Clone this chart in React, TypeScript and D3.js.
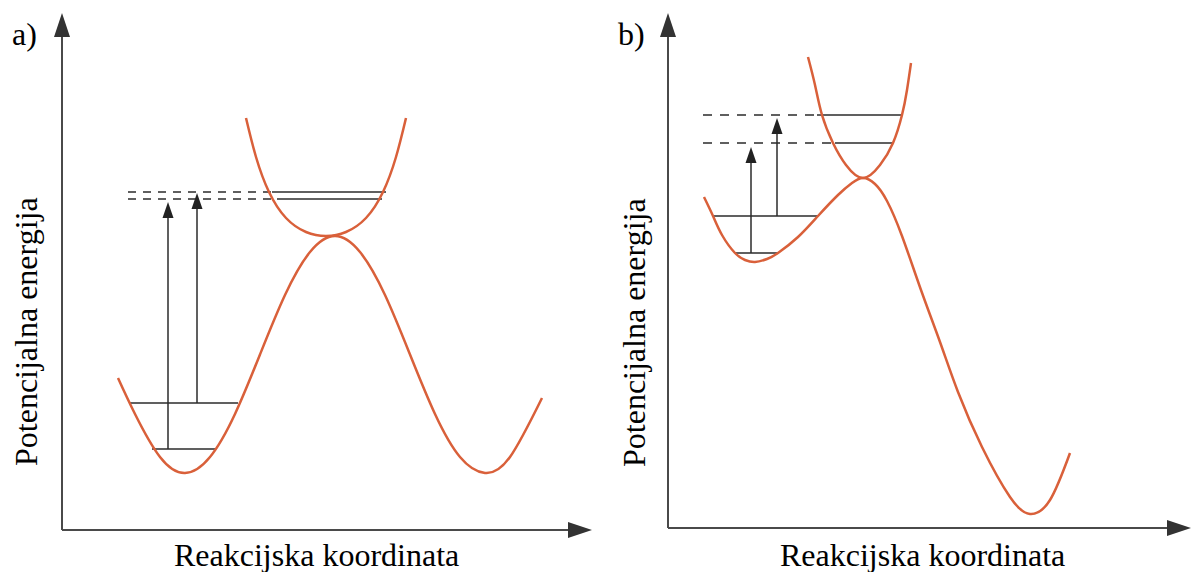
import React from "react";
import * as d3 from "d3";

type Pt = [number, number];

// reaction coordinate / energy, arbitrary units (0..100 on each panel)
const lowerCurveA: Pt[] = [
  [11.2, 30.4], [14.6, 23.2], [19.6, 14.6], [24.6, 11.4], [29.6, 14.6],
  [34.6, 23.2], [39.6, 35.1], [44.6, 47], [49.6, 55.6], [54.6, 58.8],
  [59.6, 55.6], [64.6, 47], [69.6, 35.1], [74.6, 23.2], [79.6, 14.6],
  [84.6, 11.4], [89.6, 14.6], [96, 26.4],
];
const upperCurveA: Pt[] = [
  [36.8, 82.4], [38.8, 74.6], [41.4, 67.6], [44.8, 62.4], [48.8, 59.6],
  [52.8, 58.8], [56.8, 59.6], [60.8, 62.4], [64.2, 67.6], [66.8, 74.6],
  [68.8, 82.4],
];
// [from, to, energy]
const lowerLevelsA = [[18, 30.6, 16.2], [13.4, 35.2, 25.4]];
// [dash start, solid start, solid end, energy]
const upperLevelsA = [[13.2, 43, 64, 66.2], [13.2, 42, 64.8, 67.6]];
// [x, from energy, to energy]
const transitionsA = [[21.2, 16.2, 65.6], [27, 25.4, 67.4]];

const lowerCurveB: Pt[] = [
  [7.2, 66.2], [9, 62.4], [10.8, 58.6], [13.4, 55], [15.4, 53.6],
  [17.4, 53.2], [19.8, 53.8], [22, 55], [26, 58.2], [30, 62.4],
  [34, 66.6], [36.8, 69], [39, 70], [41.4, 68.8], [43.8, 65.4],
  [46.8, 58.4], [50.6, 47.6], [54.4, 37.2], [58, 27.2], [62.8, 16.2],
  [68.4, 6.2], [72.4, 2.8], [76.4, 5.6], [80.4, 15],
];
const upperCurveB: Pt[] = [
  [28, 94.2], [29.4, 88.6], [30.8, 82.6], [33, 77], [35.6, 72.6],
  [39, 70], [42.4, 72.6], [45, 77], [46.8, 82.6], [47.8, 87.6],
  [48.6, 93],
];
const lowerLevelsB = [[13.4, 22, 55], [9, 30, 62.4]];
const upperLevelsB = [[7, 33.4, 44.8, 77], [7, 29.8, 46.8, 82.6]];
const transitionsB = [[16.6, 55, 76.2], [21.8, 62.4, 82]];

const yTitle = "Potencijalna energija";
const xTitle = "Reakcijska koordinata";

const CURVE = "#d9603a";
const INK = "#2b2b2b";
const AXIS = "#4a4a4a";

function Panel({ x0, y0, xTip, yTip, lower, upper, lowerLevels, upperLevels, transitions, dash }) {
  const x = d3.scaleLinear().domain([0, 100]).range([x0, x0 + 500]);
  const y = d3.scaleLinear().domain([0, 100]).range([y0, y0 - 500]);
  const line = d3
    .line<Pt>()
    .x((d) => x(d[0]))
    .y((d) => y(d[1]))
    .curve(d3.curveNatural);

  return (
    <g>
      <line x1={x0} y1={y0} x2={x0} y2={yTip + 20} stroke={AXIS} strokeWidth={2} />
      <line x1={x0} y1={y0} x2={xTip - 20} y2={y0} stroke={AXIS} strokeWidth={2} />
      <path d={`M${x0},${yTip}L${x0 - 8},${yTip + 24}L${x0 + 8},${yTip + 24}Z`} fill="#333" />
      <path d={`M${xTip},${y0}L${xTip - 24},${y0 - 8}L${xTip - 24},${y0 + 8}Z`} fill="#333" />

      {lowerLevels.map(([a, b, e], i) => (
        <line key={"l" + i} x1={x(a)} x2={x(b)} y1={y(e)} y2={y(e)} stroke={INK} strokeWidth={1.5} />
      ))}
      {upperLevels.map(([d0, a, b, e], i) => (
        <g key={"u" + i}>
          <line x1={x(d0)} x2={x(a)} y1={y(e)} y2={y(e)} stroke={INK} strokeWidth={1.5} strokeDasharray={dash} />
          <line x1={x(a)} x2={x(b)} y1={y(e)} y2={y(e)} stroke={INK} strokeWidth={1.5} />
        </g>
      ))}
      {transitions.map(([xv, e0, e1], i) => {
        const tx = x(xv);
        const ty = y(e1);
        return (
          <g key={"t" + i}>
            <line x1={tx} x2={tx} y1={y(e0)} y2={ty + 12} stroke={INK} strokeWidth={1.5} />
            <path d={`M${tx},${ty}L${tx - 5.5},${ty + 16}L${tx + 5.5},${ty + 16}Z`} fill="#222" />
          </g>
        );
      })}

      <path d={line(lower) ?? ""} fill="none" stroke={CURVE} strokeWidth={2.5} />
      <path d={line(upper) ?? ""} fill="none" stroke={CURVE} strokeWidth={2.5} />
    </g>
  );
}

export default function App() {
  return (
    <svg width={1193} height={572} style={{ position: "absolute", left: 0, top: 0, background: "#fff" }}>
      <g fontFamily="Liberation Serif" fontSize={32}>
        <text x={12} y={45}>a)</text>
        <text x={618} y={45}>b)</text>
        <text transform="translate(37,466) rotate(-90)">{yTitle}</text>
        <text transform="translate(645,467) rotate(-90)">{yTitle}</text>
        <text x={174} y={566}>{xTitle}</text>
        <text x={780} y={566}>{xTitle}</text>
      </g>
      <Panel
        x0={62}
        y0={530}
        xTip={592}
        yTip={13}
        lower={lowerCurveA}
        upper={upperCurveA}
        lowerLevels={lowerLevelsA}
        upperLevels={upperLevelsA}
        transitions={transitionsA}
        dash="8 7"
      />
      <Panel
        x0={668}
        y0={528}
        xTip={1191}
        yTip={13}
        lower={lowerCurveB}
        upper={upperCurveB}
        lowerLevels={lowerLevelsB}
        upperLevels={upperLevelsB}
        transitions={transitionsB}
        dash="9 8"
      />
    </svg>
  );
}
